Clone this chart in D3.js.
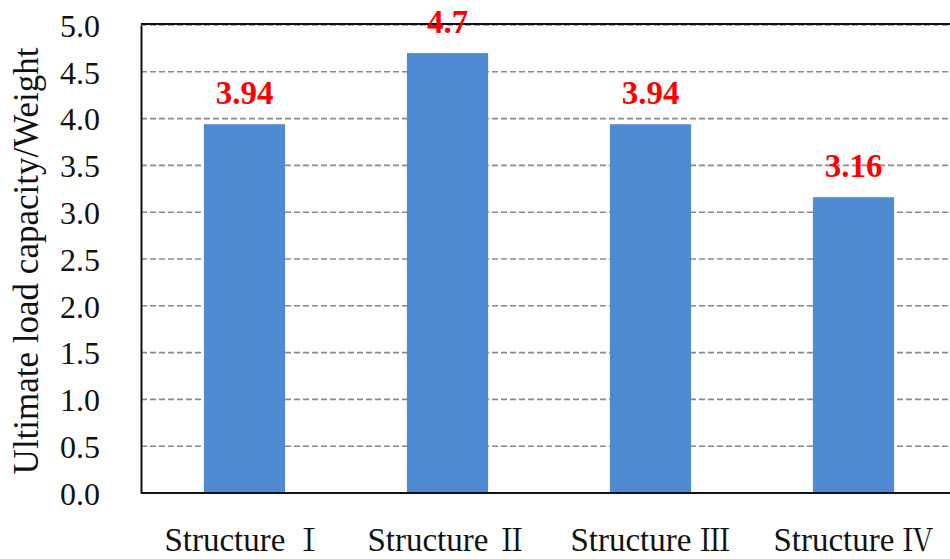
<!DOCTYPE html>
<html><head><meta charset="utf-8">
<script src="https://cdn.jsdelivr.net/npm/d3@7"></script>
<style>html,body{margin:0;padding:0;background:#fff;overflow:hidden}</style>
</head><body>
<svg id="chart" width="950" height="559"></svg>
<script>
const categories = ["Structure Ⅰ", "Structure Ⅱ", "Structure Ⅲ", "Structure Ⅳ"];
const values = [3.94, 4.7, 3.94, 3.16];
const valueLabels = ["3.94", "4.7", "3.94", "3.16"];
const yTicks = [0, 0.5, 1.0, 1.5, 2.0, 2.5, 3.0, 3.5, 4.0, 4.5, 5.0];
const yTitle = "Ultimate load capacity/Weight";

(function () {
const svg = d3.select("#chart");
const mLeft = 141, mTop = 25, mBottom = 493, mRight = 955;
const serif = '"Liberation Serif","Times New Roman",serif';
const cjkSerif = '"Noto Serif CJK SC","Liberation Serif",serif';

const x = d3.scaleBand().domain(categories).range([mLeft + 2, mRight]).paddingInner(0.6).paddingOuter(0.3);
const y = d3.scaleLinear().domain([0, 5]).range([mBottom, mTop]);

svg.append("g").selectAll("line").data(yTicks.filter(d => d > 0)).join("line")
  .attr("x1", mLeft).attr("x2", 950)
  .attr("y1", d => y(d)).attr("y2", d => y(d))
  .attr("stroke", "#8a8a8a").attr("stroke-width", 1.6).attr("stroke-dasharray", "6,3");

svg.append("line").attr("x1", mLeft).attr("x2", 950).attr("y1", y(5) - 1).attr("y2", y(5) - 1)
  .attr("stroke", "#111").attr("stroke-width", 2);

svg.append("g").selectAll("rect").data(values).join("rect")
  .attr("x", (d, i) => x(categories[i]))
  .attr("width", x.bandwidth())
  .attr("y", d => y(d))
  .attr("height", d => mBottom - y(d))
  .attr("fill", "#508ad3");

const yAxis = d3.axisLeft(y).tickValues(yTicks).tickFormat(d3.format(".1f")).tickSize(0).tickPadding(41);
const gy = svg.append("g").attr("transform", `translate(${mLeft},0)`).call(yAxis);
gy.attr("font-family", null);
gy.select(".domain").attr("stroke", "#111").attr("stroke-width", 2);
gy.selectAll("text").style("font-family", serif).style("font-size", "32px").attr("fill", "#111").attr("dy", "0.35em");

const xAxis = d3.axisBottom(x).tickSize(0).tickPadding(35);
const gx = svg.append("g").attr("transform", `translate(0,${mBottom})`).call(xAxis);
gx.attr("font-family", null);
gx.select(".domain").attr("stroke", "#111").attr("stroke-width", 2).attr("d", `M${mLeft},0H950`);
gx.selectAll("text").style("font-family", serif).style("font-size", "33px").attr("fill", "#111").attr("dy", "0.71em")
  .each(function (d) {
    const t = d3.select(this);
    t.text(null);
    t.append("tspan").text(d.slice(0, -1));
    t.append("tspan").style("font-family", cjkSerif).style("font-size", "31px").text(d.slice(-1));
  });

svg.append("g").selectAll("text").data(values).join("text")
  .attr("x", (d, i) => x(categories[i]) + x.bandwidth() / 2)
  .attr("y", d => y(d) - 20)
  .attr("text-anchor", "middle")
  .style("font-family", serif).style("font-weight", "bold").style("font-size", "33px")
  .attr("fill", "#ff0000")
  .text((d, i) => valueLabels[i]);

svg.append("text")
  .attr("transform", `translate(38,${(mTop + mBottom) / 2 + 2}) rotate(-90)`)
  .attr("text-anchor", "middle")
  .style("font-family", serif).style("font-size", "35px").attr("fill", "#111")
  .text(yTitle);
})();
</script>
</body></html>
